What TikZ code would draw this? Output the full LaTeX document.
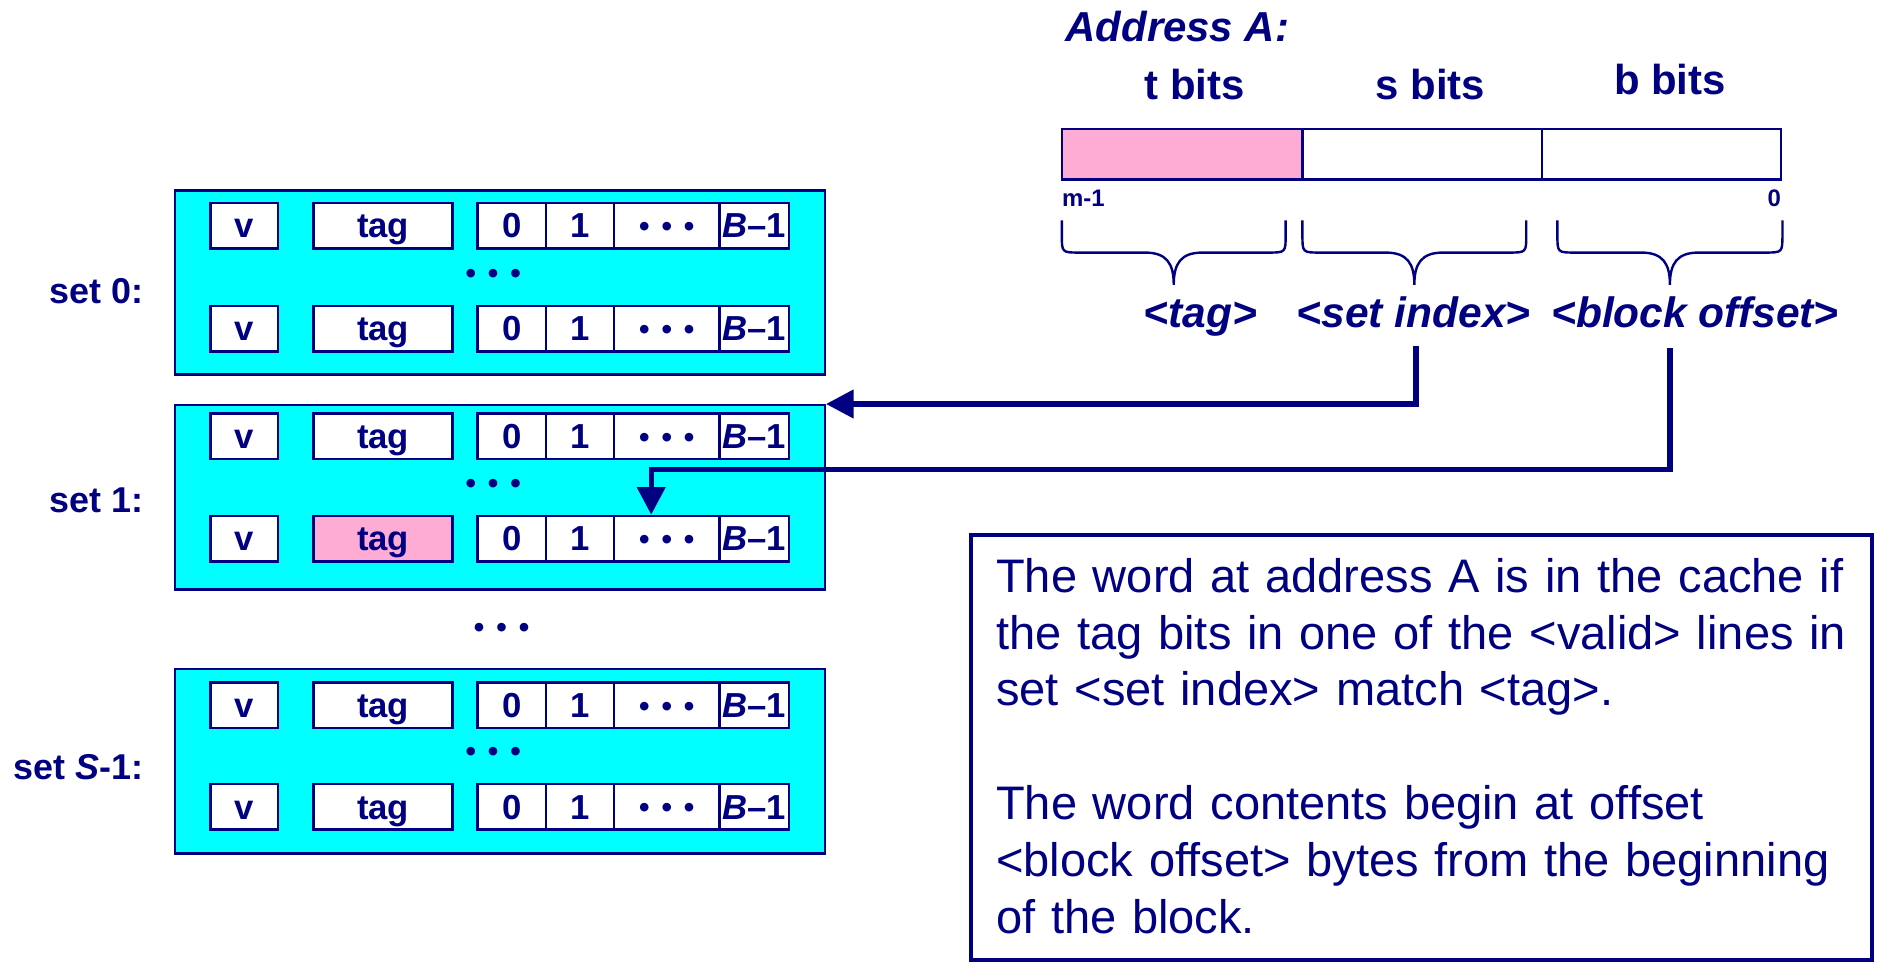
\documentclass[tikz,border=0pt]{standalone}
\usepackage{fontspec}
\setmainfont{Liberation Sans}
\usetikzlibrary{arrows.meta}
\definecolor{navy}{RGB}{0,0,128}
\definecolor{setcyan}{RGB}{0,255,255}
\definecolor{tagpink}{RGB}{255,172,212}
\newcommand{\celldots}{{\fontsize{25}{25}\selectfont\raisebox{1pt}{%
    \textbullet\hspace{10pt}\textbullet\hspace{10pt}\textbullet}}}

\begin{document}
\begin{tikzpicture}[x=1pt,y=-1pt,
    every node/.style={text=navy, inner sep=0pt},
    cell/.style={draw=navy, line width=2pt, minimum height=38pt,
        text height=20.5pt, text depth=0pt,
        font=\fontsize{29}{30}\selectfont\bfseries},
    gap/.style={font=\fontsize{28}{30}\selectfont\bfseries},
    setbox/.style={draw=navy, line width=2pt, fill=setcyan,
        minimum width=543pt, minimum height=154pt},
    setlabel/.style={anchor=east, font=\fontsize{30}{32}\selectfont\bfseries},
    field/.style={draw=navy, line width=2pt, minimum width=200pt, minimum height=42pt},
    bitlabel/.style={anchor=base, font=\fontsize{35}{40}\selectfont\bfseries},
    partlabel/.style={anchor=base, font=\fontsize{35.5}{40}\selectfont\bfseries\itshape},
    small/.style={font=\fontsize{20}{22}\selectfont\bfseries},
    brace/.style={draw=navy, line width=2pt},
    conn/.style={draw=navy, line width=4.5pt, -{Triangle[length=23pt,width=23pt]}},
    note/.style={draw=navy, line width=3.5pt, minimum width=753pt, minimum height=355pt}
]
    \useasboundingbox (0,0) rectangle (1568,804.5);

    % the sets
    \node[setbox] (set0) at (417.5,236) {};
    \node[setbox] (set1) at (417.5,415.5) {};
    \node[setbox] (setS) at (417.5,636) {};

    \node[setlabel] (lab0) at (120,243) {set 0:};
    \node[setlabel] (lab1) at (120,418) {set 1:};
    \node[setlabel] (labS) at (120,641) {set \textit{S}-1:};

    % the lines in the sets (row name / y / fill of the tag)
    \foreach \r/\y/\c in {a/188.5/white, b/274.5/white, c/364.5/white,
                          d/450/tagpink, e/589/white, f/674/white} {
        \node[cell, fill=white, minimum width=56pt] (v\r) at (204,\y) {v};
        \node[cell, fill=\c, minimum width=116pt] (tag\r) at (320,\y) {tag};
        \node[cell, fill=white, minimum width=57pt] (zero\r) at (427.5,\y) {0};
        \node[cell, fill=white, minimum width=57pt] (one\r) at (484.5,\y) {1};
        \node[cell, fill=white, minimum width=88pt] (dots\r) at (557,\y) {\celldots};
        \node[cell, fill=white, minimum width=58pt] (last\r) at (630,\y) {\textit{B}--1};
    }

    % the dots between the lines and between the sets
    \node[gap] (gap0) at (412,231) {\celldots};
    \node[gap] (gap1) at (412,407) {\celldots};
    \node[gap] (gapS) at (412,631) {\celldots};
    \node[gap] (gapsets) at (419,527) {\celldots};

    % the address
    \node[anchor=base west, font=\fontsize{35}{40}\selectfont\bfseries\itshape]
        (addr) at (890,35) {Address A:};
    \node[bitlabel] (tbits) at (998,83.5) {t bits};
    \node[bitlabel] (sbits) at (1195,83.5) {s bits};
    \node[bitlabel] (bbits) at (1395,79) {b bits};

    \node[field, fill=tagpink, minimum width=201pt] (tf) at (987.5,129) {};
    \node[field] (sf) at (1188,129) {};
    \node[field] (bf) at (1388,129) {};

    \node[small, anchor=base west] (msb) at (887,172.7) {m-1};
    \node[small, anchor=base east] (lsb) at (1488,172.7) {0};

    % the braces under the fields
    \foreach \a/\b in {887/1074, 1088/1275, 1301/1489} {
        \pgfmathsetmacro\m{(\a+\b)/2}
        \draw[brace] (\a,184) -- (\a,196) .. controls (\a,211) .. (\a+15,211)
            -- (\m-24,211) .. controls (\m-6,211) and (\m,220) .. (\m,238)
            .. controls (\m,220) and (\m+6,211) .. (\m+24,211)
            -- (\b-15,211) .. controls (\b,211) .. (\b,196) -- (\b,184);
    }

    \node[partlabel] (ptag) at (1003,274) {<tag>};
    \node[partlabel] (pidx) at (1181,274) {<set index>};
    \node[partlabel] (poff) at (1416,274) {<block offset>};

    % draw the arrows
    \coordinate (sstart) at (1183,289);
    \coordinate (bstart) at (1395,291);
    \coordinate (bturn) at (544,392);
    \draw[conn] (sstart) |- (set1.north east);
    \draw[conn] (bstart) |- (bturn) -- ([xshift=-13pt]dotsd.north);

    % the explanation
    \node[note] (box) at (1187.5,624.5) {};
    \node[anchor=north west, text width=725pt, align=left,
        font=\fontsize{39.3}{47.5}\selectfont] (txt) at (832,466)
        {The word at address A is in the cache if\\
         the tag bits in one of the <valid> lines in\\
         set <set index> match <tag>.\\[47.5pt]
         The word contents begin at offset\\
         <block offset> bytes from the beginning\\
         of the block.};
\end{tikzpicture}
\end{document}
